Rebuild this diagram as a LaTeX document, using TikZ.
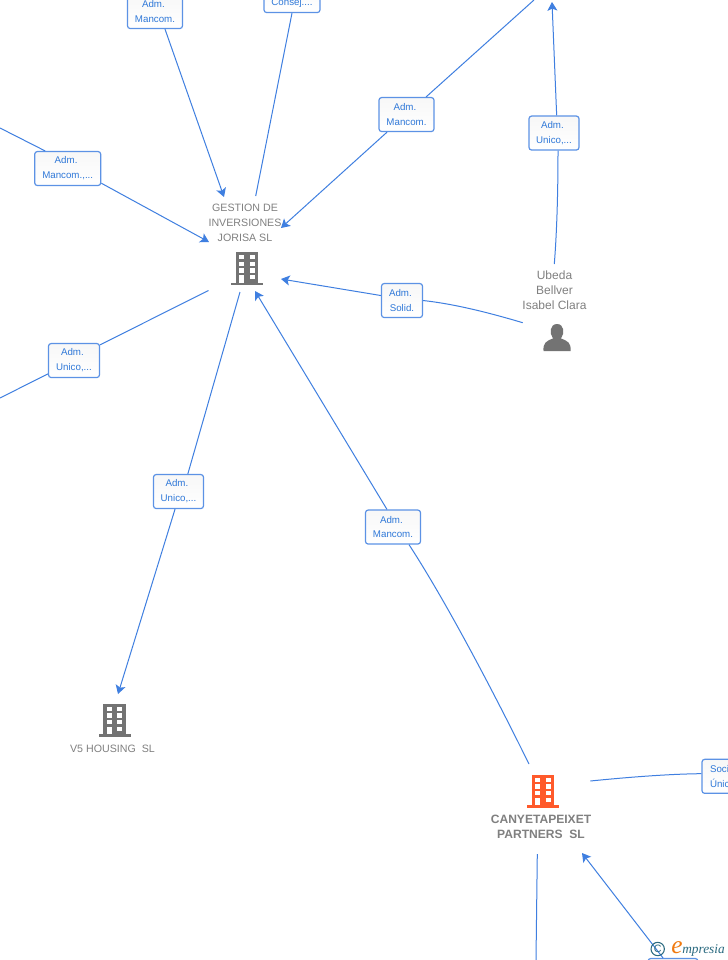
\documentclass[tikz,border=0pt]{standalone}
\usepackage{fontspec}
\setmainfont{Liberation Sans}
\newfontfamily\logofont{Liberation Serif}
\usepackage{xcolor}
\usetikzlibrary{arrows.meta}
\definecolor{linkblue}{HTML}{3F7FE0}
\definecolor{labelblue}{HTML}{2F78D8}
\definecolor{namegray}{HTML}{808080}
\definecolor{icongray}{HTML}{737373}
\definecolor{iconorange}{HTML}{FF5A2B}
\definecolor{logoteal}{HTML}{2A6A80}
\definecolor{logoorange}{HTML}{F07A10}
\tikzset{
  link/.style = {draw = linkblue, line width = 0.75pt},
  linkto/.style = {link, -{Stealth[length = 6.5pt, width = 7.5pt, inset = 1.5pt]}},
  rolebox/.style = {draw = linkblue!85, line width = 0.9pt, rounded corners = 2pt, top color = black!3, bottom color = white,
    text = labelblue, font = \fontsize{7.3}{11.2}\selectfont, align = center, inner sep = 0pt, yshift = -0.4pt},
  firmname/.style = {text = namegray, font = \fontsize{8}{11.2}\selectfont, align = center, inner sep = 0pt},
  boldname/.style = {firmname, font = \fontsize{9.05}{11.2}\selectfont\bfseries},
}
\newcommand{\admline}{Adm.\kern 2.4pt}
% office block, centred on the given point
\newcommand{\officeblock}[2]{
  \begin{scope}[shift = {#1}]
    \fill[#2] (-16, 14.2) rectangle (16, 16.5);
    \fill[#2] (-11.3, -16.5) rectangle (11.3, 15);
    \foreach \px in {-7.7, 2.5} {
      \foreach \py in {-13.5, -6.8, -0.2} {
        \fill[white] (\px, \py) rectangle (\px + 5, \py + 4.3);
      }
    }
    \fill[white] (-7.7, 6.5) rectangle (-2.7, 14.2);
    \fill[white] (2.5, 6.5) rectangle (7.5, 10.8);
  \end{scope}
}
\begin{document}
\begin{tikzpicture}[x = 0.75pt, y = -0.75pt]
  \useasboundingbox (0, 0) rectangle (728, 960);
  \fill[white] (0, 0) rectangle (728, 960);
  % end points of the connectors
  \coordinate (gestionN) at (224, 197);
  \coordinate (gestionNE) at (255.7, 196);
  \coordinate (gestionE) at (281, 228);
  \coordinate (gestionW) at (209, 242);
  \coordinate (gestionSW) at (208.5, 290.5);
  \coordinate (gestionS) at (240, 292);
  \coordinate (gestionSE) at (255, 291);
  \coordinate (gestionR) at (281, 279);
  \coordinate (offLeft) at (0, 128);
  \coordinate (offLow) at (0, 398);
  \coordinate (offTop) at (534, 0);
  \coordinate (upArrow) at (552, 2);
  \coordinate (ubedaN) at (554.3, 264);
  \coordinate (ubedaW) at (522.7, 322.7);
  \coordinate (vfiveN) at (118, 694);
  \coordinate (canyeN) at (529, 764);
  \coordinate (canyeE) at (590.3, 781);
  \coordinate (canyeS) at (537.3, 854);
  \coordinate (canyeR) at (582, 853);
  \coordinate (offBottom) at (536, 960);
  % role boxes
  \node[rolebox, minimum width = 55pt * 0.75, minimum height = 34pt * 0.75] (mancomA) at (155, 11) {\admline\\Mancom.};
  \node[rolebox, minimum width = 56pt * 0.75, minimum height = 34pt * 0.75] (consej) at (292, -5) {\phantom{Adm.}\\Consej....};
  \node[rolebox, minimum width = 66pt * 0.75, minimum height = 34pt * 0.75] (mancomB) at (67.7, 168) {\admline\\Mancom.,...};
  \node[rolebox, minimum width = 55pt * 0.75, minimum height = 34pt * 0.75] (mancomC) at (406.5, 114) {\admline\\Mancom.};
  \node[rolebox, minimum width = 50pt * 0.75, minimum height = 34pt * 0.75] (unicoA) at (554, 132.5) {\admline\\Unico,...};
  \node[rolebox, minimum width = 41pt * 0.75, minimum height = 34pt * 0.75] (solid) at (402, 300) {\admline\\Solid.};
  \node[rolebox, minimum width = 51pt * 0.75, minimum height = 34pt * 0.75] (unicoB) at (74, 360) {\admline\\Unico,...};
  \node[rolebox, minimum width = 50pt * 0.75, minimum height = 34pt * 0.75] (unicoC) at (178.5, 491) {\admline\\Unico,...};
  \node[rolebox, minimum width = 55pt * 0.75, minimum height = 34pt * 0.75] (mancomD) at (393, 526.5) {\admline\\Mancom.};
  \node[rolebox, minimum width = 50pt * 0.75, minimum height = 34pt * 0.75, text width = 34pt * 0.75, align = left] (socio) at (727, 775.8) {Soci\\Únic};
  \node[rolebox, minimum width = 50pt * 0.75, minimum height = 34pt * 0.75] (lastbox) at (673, 975) {};
  % connectors
  \draw[linkto] ([xshift = 7.5pt]mancomA.south) -- (gestionN);
  \draw[link] (consej.south) -- (gestionNE);
  \draw[linkto] (mancomC) -- (gestionE);
  \draw[link] (mancomC) -- (offTop);
  \draw[link] ([xshift = -16.9pt]mancomB.north) -- (offLeft);
  \draw[linkto] ([yshift = -11pt]mancomB.east) -- (gestionW);
  \draw[link] ([yshift = 11.8pt]unicoB.east) -- (gestionSW);
  \draw[link] ([yshift = -10pt]unicoB.west) -- (offLow);
  \draw[link] ([xshift = 7pt]unicoC.north) -- (gestionS);
  \draw[linkto] ([xshift = -2.6pt]unicoC.south) -- (vfiveN);
  \draw[linkto] ([xshift = -4.5pt]mancomD.north) -- (gestionSE);
  \draw[link] ([xshift = 12pt]mancomD.south) .. controls (445, 600) and (490, 685) .. (canyeN);
  \draw[linkto] ([yshift = 3.75pt]solid.west) -- (gestionR);
  \draw[link] (solid.east) .. controls (455, 304) and (490, 313) .. (ubedaW);
  \draw[linkto] ([xshift = 2pt]unicoA.north) -- (upArrow);
  \draw[link] ([xshift = 3pt]unicoA.south) .. controls (558, 190) and (557, 230) .. (ubedaN);
  \draw[link] ([yshift = 2pt]socio.west) .. controls (670, 774) and (630, 777) .. (canyeE);
  \draw[link] (canyeS) -- (offBottom);
  \draw[linkto] ([xshift = -7.5pt]lastbox.north) -- (canyeR);
  % firms and the person
  \node[firmname] (gestion) at (245, 222.5) {GESTION DE\\INVERSIONES\\JORISA SL};
  \officeblock{(247, 268.5)}{icongray}
  \officeblock{(114.7, 720)}{icongray}
  \node[firmname] (vfive) at (112.5, 749) {V5 HOUSING\ \ SL};
  \officeblock{(543, 791)}{iconorange}
  \node[boldname] (canye) at (541, 827) {CANYETAPEIXET\\PARTNERS\ \ SL};
  \node[firmname, font = \fontsize{9}{11.2}\selectfont] (ubeda) at (554.5, 290) {Ubeda\\Bellver\\Isabel Clara};
  \fill[icongray] (543.5, 351) .. controls (543, 343) and (546, 341) .. (553, 338.5)
    .. controls (549, 333) and (550, 324) .. (557, 324)
    .. controls (564, 324) and (565, 333) .. (561, 338.5)
    .. controls (568, 341) and (571, 343) .. (570.7, 351) -- cycle;
  % logo
  \node[circle, draw = logoteal, line width = 0.8pt, minimum size = 10pt, inner sep = 0pt, text = logoteal, font = \fontsize{8}{8}\selectfont] (copyr) at (657.7, 949) {C};
  \node[anchor = base west, text = logoorange, font = \logofont\fontsize{19}{19}\selectfont\itshape, inner sep = 0pt] (logoe) at (671, 953.5) {e};
  \node[anchor = base west, text = logoteal, font = \logofont\fontsize{10}{10}\selectfont\itshape, inner sep = 0pt] (logo) at (682, 953.5) {mpresia};
\end{tikzpicture}
\end{document}
